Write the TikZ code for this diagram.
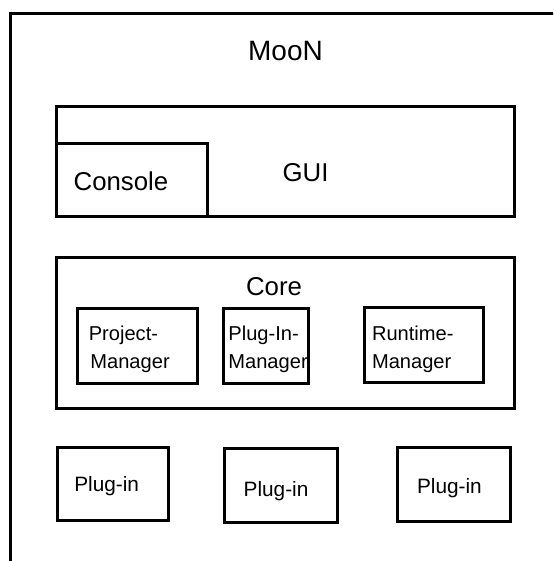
\documentclass[tikz,border=0pt]{standalone}
\usepackage{fontspec}
\setmainfont{Liberation Sans}
\usetikzlibrary{fit}
\tikzset{
  box/.style={draw, line width=3pt, inner sep=0pt, rectangle},
  lbl/.style={inner sep=0pt, anchor=base},
  lblw/.style={inner sep=0pt, anchor=base west},
  big/.style={font=\fontsize{28}{33}\selectfont},
  mid/.style={font=\fontsize{25.8}{30}\selectfont},
  small/.style={font=\fontsize{20.8}{25}\selectfont},
  mgr/.style={font=\fontsize{20.1}{24}\selectfont},
}
\begin{document}
\begin{tikzpicture}[x=1pt,y=-1pt]
\useasboundingbox (0,0) rectangle (553,561);
\clip (0,0) rectangle (553,561);
% outer frame (extends beyond the picture)
\coordinate (otl) at (10.5,13.5);
\coordinate (obr) at (620,640);
\node[box, fit=(otl)(obr)] (outer) {};
\node[lbl,big] (moon) at (285.5,61) {MooN};
% GUI
\coordinate (g1) at (56.5,106.5);
\coordinate (g2) at (514,216.5);
\node[box, fit=(g1)(g2)] (gui) {};
\node[lbl,mid] (guit) at (305.5,182) {GUI};
\coordinate (c1) at (56.5,144);
\coordinate (c2) at (207.5,216.5);
\node[box, fit=(c1)(c2)] (console) {};
\node[lbl,mid] (consolet) at (121,190.5) {Console};
% Core
\coordinate (k1) at (56.5,257);
\coordinate (k2) at (514,408.5);
\node[box, fit=(k1)(k2)] (core) {};
\node[lbl,mid] (coret) at (274,295) {Core};
\coordinate (p1) at (77,308.5);
\coordinate (p2) at (197,383);
\node[box, fit=(p1)(p2)] (pm) {};
\node[lblw,mgr] (pmt1) at (88.6,340) {Project-};
\node[lblw,mgr] (pmt2) at (90.2,368.5) {Manager};
\coordinate (q1) at (223,308.5);
\coordinate (q2) at (308.5,383);
\node[box, fit=(q1)(q2)] (pim) {};
\node[lblw,mgr] (pimt1) at (228.2,340) {Plug-In-};
\node[lblw,mgr] (pimt2) at (228.2,368.5) {Manager};
\coordinate (r1) at (364,307);
\coordinate (r2) at (483,382);
\node[box, fit=(r1)(r2)] (rm) {};
\node[lblw,mgr] (rmt1) at (371.8,340) {Runtime-};
\node[lblw,mgr] (rmt2) at (371.8,368.5) {Manager};
% Plug-ins
\coordinate (a1) at (57,447);
\coordinate (a2) at (168.5,520.5);
\node[box, fit=(a1)(a2)] (plug1) {};
\node[lbl,small] (plug1t) at (106.7,491.7) {Plug-in};
\coordinate (b1) at (224.7,448);
\coordinate (b2) at (337,522);
\node[box, fit=(b1)(b2)] (plug2) {};
\node[lbl,small] (plug2t) at (276,496.7) {Plug-in};
\coordinate (d1) at (397,447);
\coordinate (d2) at (510,521);
\node[box, fit=(d1)(d2)] (plug3) {};
\node[lbl,small] (plug3t) at (449.4,493.3) {Plug-in};
\end{tikzpicture}
\end{document}
